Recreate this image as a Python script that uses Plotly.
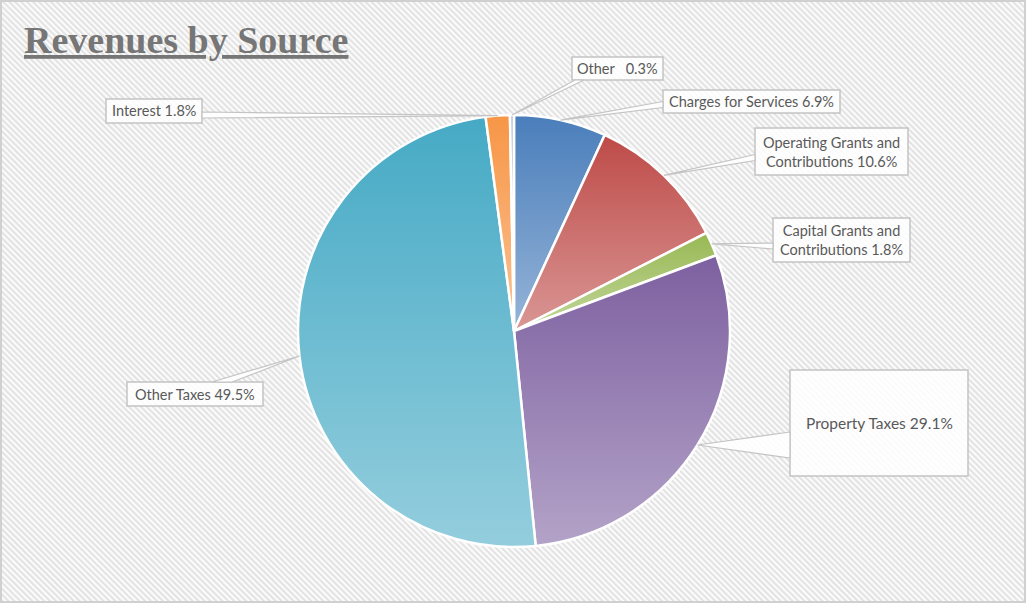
import base64
import math
import plotly.graph_objects as go

# ---- data ----
categories = ["Charges for Services", "Operating Grants and<br>Contributions",
              "Capital Grants and<br>Contributions", "Property Taxes",
              "Other Taxes", "Interest", "Other"]
label_text = ["Charges for Services 6.9%", "Operating Grants and<br>Contributions 10.6%",
              "Capital Grants and<br>Contributions 1.8%", "Property Taxes 29.1%",
              "Other Taxes 49.5%", "Interest 1.8%", "Other   0.3%"]
values = [6.9, 10.6, 1.8, 29.1, 49.5, 1.8, 0.3]
colors = ["#4A7EBB", "#BE4B48", "#98B954", "#7D60A0", "#46AAC5", "#F79646", "#B7C3D3"]

W, H = 1026, 603
CX, CY, R = 514, 331, 216

# label box layout (pixels)
boxes = [
    dict(x0=663, y0=90, x1=840, y1=113, side="left", size=14.5),
    dict(x0=755, y0=128, x1=908, y1=175, side="left", size=14.5),
    dict(x0=773, y0=218, x1=910, y1=262, side="left", size=14.5),
    dict(x0=790, y0=370, x1=968, y1=476, side="wedge", size=15.5),
    dict(x0=127, y0=382, x1=263, y1=406, side="top", size=14.5),
    dict(x0=106, y0=99, x1=202, y1=123, side="right", size=14.5),
    dict(x0=572, y0=57, x1=663, y1=80, side="bottomleft", size=14.5),
]

def px(x):
    return x / W

def py(y):
    return 1 - y / H

# ---- background hatch ----
bg_svg = f'''<svg xmlns="http://www.w3.org/2000/svg" width="{W}" height="{H}" viewBox="0 0 {W} {H}">
<defs><pattern id="p" width="4.2" height="4.2" patternUnits="userSpaceOnUse" patternTransform="rotate(-45)">
<rect width="4.2" height="4.2" fill="#fbfbfb"/><rect width="2" height="4.2" fill="#e2e2e2"/></pattern></defs>
<rect width="{W}" height="{H}" fill="url(#p)"/>
<rect x="1" y="1" width="{W-2}" height="{H-2}" fill="none" stroke="#d0d0d0" stroke-width="2"/>
</svg>'''
bg_src = "data:image/svg+xml;base64," + base64.b64encode(bg_svg.encode()).decode()

# ---- per-slice gradient overlay (geometry derived from the values) ----
total = sum(values)
wedges = []
cum = 0.0
for i, v in enumerate(values):
    a0 = cum / total * 2 * math.pi
    a1 = (cum + v) / total * 2 * math.pi
    cum += v
    x0, y0 = R + R * math.sin(a0), R - R * math.cos(a0)
    x1, y1 = R + R * math.sin(a1), R - R * math.cos(a1)
    large = 1 if (a1 - a0) > math.pi else 0
    wedges.append(f'<path d="M{R},{R} L{x0:.2f},{y0:.2f} A{R},{R} 0 {large} 1 {x1:.2f},{y1:.2f} Z" fill="url(#g)"/>')
gr_svg = f'''<svg xmlns="http://www.w3.org/2000/svg" width="{2*R}" height="{2*R}" viewBox="0 0 {2*R} {2*R}">
<defs><linearGradient id="g" x1="0" y1="0" x2="0" y2="1">
<stop offset="0" stop-color="#ffffff" stop-opacity="0"/>
<stop offset="1" stop-color="#ffffff" stop-opacity="0.42"/></linearGradient></defs>
{''.join(wedges)}</svg>'''
gr_src = "data:image/svg+xml;base64," + base64.b64encode(gr_svg.encode()).decode()

fig = go.Figure()
fig.add_trace(go.Pie(
    labels=categories, values=values, sort=False, direction="clockwise", rotation=0,
    marker=dict(colors=colors, line=dict(color="#ffffff", width=2.5)),
    textinfo="none", hoverinfo="label+percent", showlegend=False,
    domain=dict(x=[px(CX - R), px(CX + R)], y=[py(CY + R), py(CY - R)]),
))

shapes = []
annotations = []
cum = 0.0
for v, txt, b in zip(values, label_text, boxes):
    mid = (cum + v / 2) / total * 2 * math.pi
    cum += v
    tx = CX + R * math.sin(mid)
    ty = CY - R * math.cos(mid)
    side = b["side"]
    if side == "wedge":
        a1, a2 = (b["x0"], 432), (b["x0"], 458)
    elif side == "left":
        ym = (b["y0"] + b["y1"]) / 2 + (3 if b["y1"] - b["y0"] < 30 else 6)
        a1, a2 = (b["x0"], ym - 3), (b["x0"], ym + 3)
    elif side == "right":
        ym = (b["y0"] + b["y1"]) / 2 + 4
        a1, a2 = (b["x1"], ym - 3), (b["x1"], ym + 3)
    elif side == "top":
        a1, a2 = (b["x0"] + 85, b["y0"]), (b["x0"] + 105, b["y0"])
    else:
        a1, a2 = (b["x0"] + 3, b["y1"]), (b["x0"] + 12, b["y1"])
    shapes.append(dict(type="rect", xref="paper", yref="paper",
                       x0=px(b["x0"]), x1=px(b["x1"]), y0=py(b["y1"]), y1=py(b["y0"]),
                       fillcolor="rgba(255,255,255,0.85)", line=dict(color="#c4c4c4", width=1.5),
                       layer="above"))
    path = f"M{px(a1[0])},{py(a1[1])} L{px(tx)},{py(ty)} L{px(a2[0])},{py(a2[1])} Z"
    shapes.append(dict(type="path", xref="paper", yref="paper", path=path,
                       fillcolor="rgba(255,255,255,0.9)", line=dict(color="#c4c4c4", width=1.2),
                       layer="above"))
    annotations.append(dict(x=px((b["x0"] + b["x1"]) / 2), y=py((b["y0"] + b["y1"]) / 2),
                            xref="paper", yref="paper", text=txt, showarrow=False,
                            align="center", xanchor="center", yanchor="middle",
                            font=dict(family="Lato, 'Liberation Sans', sans-serif",
                                      size=b["size"], color="#595959")))

annotations.append(dict(x=px(22), y=py(40), xref="paper", yref="paper",
                        text="<b>Revenues by Source</b>", showarrow=False,
                        xanchor="left", yanchor="middle",
                        font=dict(family="'Liberation Serif', serif", size=38, color="#767676",
                                  lineposition="under")))

fig.update_layout(
    width=W, height=H, margin=dict(l=0, r=0, t=0, b=0),
    paper_bgcolor="#ffffff", plot_bgcolor="#ffffff",
    shapes=shapes, annotations=annotations,
    images=[
        dict(source=bg_src, xref="paper", yref="paper", x=0, y=1, sizex=1, sizey=1,
             sizing="stretch", xanchor="left", yanchor="top", layer="below"),
        dict(source=gr_src, xref="paper", yref="paper", x=px(CX - R), y=py(CY - R),
             sizex=px(2 * R), sizey=2 * R / H, sizing="stretch",
             xanchor="left", yanchor="top", layer="above"),
    ],
)
fig.write_html("out.html")
